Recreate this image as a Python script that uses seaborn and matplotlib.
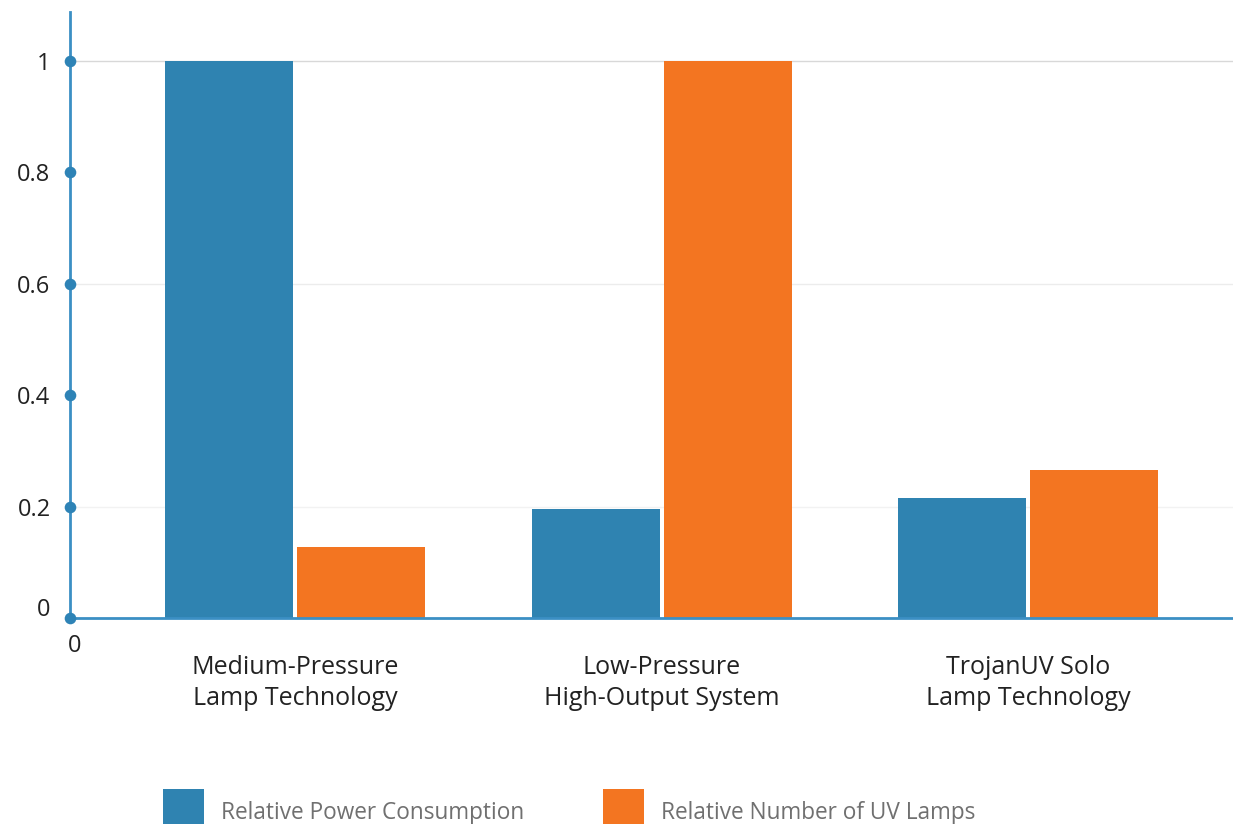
import pandas as pd
import matplotlib
matplotlib.use('Agg')
import matplotlib.pyplot as plt
import matplotlib.transforms as mtrans
import seaborn as sns

# values
categories = ['Medium-Pressure\nLamp Technology',
              'Low-Pressure\nHigh-Output System',
              'TrojanUV Solo\nLamp Technology']
power = [1.0, 0.195, 0.215]
lamps = [0.128, 1.0, 0.266]
series_names = ['Relative Power Consumption', 'Relative Number of UV Lamps']
y_ticks = [0, 0.2, 0.4, 0.6, 0.8, 1]
y_tick_labels = ['0', '0.2', '0.4', '0.6', '0.8', '1']

BLUE = '#2f83b1'
ORANGE = '#f37521'
AXIS = '#3b8fc4'

df = pd.DataFrame({
    'category': categories * 2,
    'value': power + lamps,
    'series': [series_names[0]] * 3 + [series_names[1]] * 3,
})

sns.set_theme(style='white')
plt.rcParams['font.family'] = ['Open Sans', 'DejaVu Sans']

fig = plt.figure(figsize=(12.33, 8.24), dpi=100)
ax = fig.add_axes([70 / 1233, 1 - 618 / 824, 1 - 70 / 1233, (618 - 12) / 824])

sns.barplot(data=df, x='category', y='value', hue='series',
            palette=[BLUE, ORANGE], width=0.72, gap=0.03,
            linewidth=0, saturation=1, ax=ax)

ax.set_xlim(-0.614, 2.559)
ax.set_ylim(0, 1.088)
ax.set_xlabel('')
ax.set_ylabel('')

# faint horizontal gridlines
for y, c in [(0.2, '#f2f2f2'), (0.6, '#ececec'), (1.0, '#d8d8d8')]:
    ax.axhline(y, color=c, lw=1, zorder=0)

for s in ['top', 'right']:
    ax.spines[s].set_visible(False)
for s in ['left', 'bottom']:
    ax.spines[s].set_color(AXIS)
    ax.spines[s].set_linewidth(2)

ax.set_yticks(y_ticks)
ax.set_yticklabels(y_tick_labels)
ax.tick_params(axis='y', labelsize=17, labelcolor='#222222', pad=14, length=0)

# round dots on the y axis at each tick
ax.scatter([ax.get_xlim()[0]] * len(y_ticks), y_ticks, s=70, color='#2e83b6',
           zorder=5, clip_on=False, linewidths=0)

# the zero label sits a little above the axis line
zero = ax.get_yticklabels()[0]
zero.set_transform(zero.get_transform() +
                   mtrans.ScaledTranslation(0, 8 / 72, fig.dpi_scale_trans))

ax.tick_params(axis='x', labelsize=18, labelcolor='#222222', pad=27, length=0)
for lbl in ax.get_xticklabels():
    lbl.set_linespacing(1.3)

# stray zero under the origin
ax.text(0.004, -0.026, '0', transform=ax.transAxes, ha='center', va='top',
        fontsize=17, color='#222222')

handles, labels = ax.get_legend_handles_labels()
ax.get_legend().remove()
fig.legend(handles, labels, loc='upper left',
           bbox_to_anchor=(163 / 1233, 1 - 789 / 824),
           ncol=2, frameon=False, fontsize=16.3, labelcolor='#707070',
           handlelength=1.8, handleheight=2.8, handletextpad=0.75,
           columnspacing=3.5, borderpad=0, borderaxespad=0)

fig.savefig('out.png', dpi=100)
